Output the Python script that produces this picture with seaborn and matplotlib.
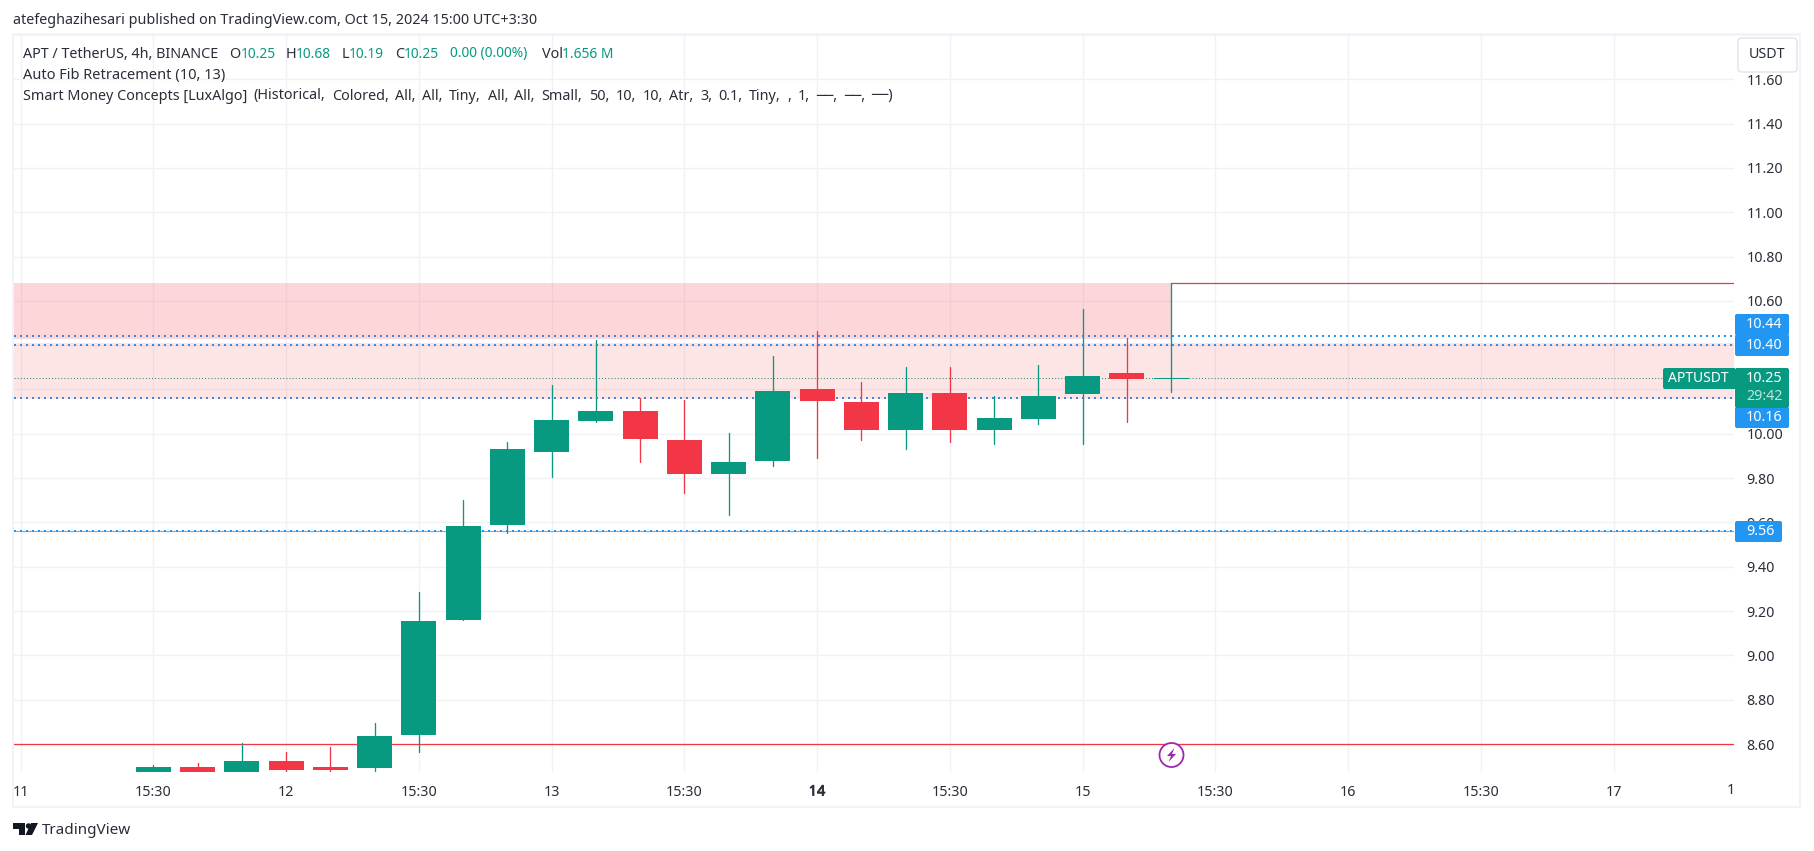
import numpy as np
import pandas as pd
import matplotlib
matplotlib.use("Agg")
import matplotlib.pyplot as plt
import matplotlib.patheffects as pe
from matplotlib.patches import FancyBboxPatch, Rectangle, Polygon, Circle
import seaborn as sns

# ---- data ----
opens  = [8.46, 8.496, 8.46, 8.523, 8.496, 8.492, 8.642, 9.160, 9.588, 9.918, 10.058, 10.103,
          9.972, 9.819, 9.878, 10.202, 10.144, 10.017, 10.184, 10.017, 10.067, 10.18, 10.275, 10.25]
closes = [8.496, 8.46, 8.523, 8.483, 8.483, 8.636, 9.155, 9.584, 9.931, 10.062, 10.103, 9.977,
          9.819, 9.873, 10.193, 10.148, 10.017, 10.184, 10.017, 10.071, 10.171, 10.261, 10.247, 10.25]
highs  = [8.505, 8.515, 8.605, 8.564, 8.586, 8.695, 9.286, 9.70, 9.963, 10.22, 10.423, 10.162,
          10.153, 10.003, 10.351, 10.464, 10.234, 10.302, 10.302, 10.171, 10.311, 10.563, 10.433, 10.68]
lows   = [8.44, 8.45, 8.45, 8.47, 8.47, 8.47, 8.564, 9.16, 9.552, 9.805, 10.053, 9.873,
          9.733, 9.634, 9.855, 9.891, 9.972, 9.931, 9.963, 9.954, 10.044, 9.954, 10.053, 10.19]
ups    = [1, 0, 1, 0, 0, 1, 1, 1, 1, 1, 1, 0, 0, 1, 1, 0, 0, 1, 0, 1, 1, 1, 0, 1]

y_ticks = [8.6, 8.8, 9.0, 9.2, 9.4, 9.6, 9.8, 10.0, 10.2, 10.4, 10.6, 10.8, 11.0, 11.2, 11.4, 11.6]
x_tick_pos = [-3, 0, 3, 6, 9, 12, 15, 18, 21, 24, 27, 30, 33]
x_tick_lab = ["11", "15:30", "12", "15:30", "13", "15:30", "14", "15:30", "15", "15:30", "16", "15:30", "17"]
fib_levels = [10.44, 10.40, 10.16, 9.56]
support = 8.60
resistance = 10.68
last_price = 10.25
zone_upper = (10.43, 10.68)
zone_lower = (10.155, 10.41)

GREEN, RED, BLUE = "#089981", "#f23645", "#2196f3"
GRID, FRAME, INK = "#f1f2f5", "#f0f3fa", "#2a2e39"

sns.set_theme(style="white")
plt.rcParams["font.family"] = ["Noto Sans", "DejaVu Sans"]
FS = 10.35
TICK = 10.3

W, H = 1814, 851
fig = plt.figure(figsize=(W / 100, H / 100), dpi=100, facecolor="white")
L, R, T, B = 14, 1734, 36, 772
ax = fig.add_axes([L / W, 1 - B / H, (R - L) / W, (B - T) / H])
x0, step = 153.3, 44.25
xlim = ((L - x0) / step, (R - x0) / step)
ylim = (11.6 - (B - 79.3) / 221.57, 11.6 + (79.3 - T) / 221.57)

df = pd.DataFrame({"i": np.arange(len(opens)), "o": opens, "c": closes, "h": highs, "l": lows, "up": ups})
wicks = pd.concat([df.assign(v=df.h), df.assign(v=df.l)])
wicks["dir"] = np.where(wicks.up == 1, "up", "down")

# grid
ax.set_xticks(x_tick_pos, x_tick_lab)
ax.set_yticks(y_ticks, [f"{v:.2f}" for v in y_ticks])
ax.yaxis.tick_right()
ax.grid(True, color=GRID, lw=1.0, zorder=0.5)
ax.set_axisbelow(True)
ax.tick_params(length=0, labelsize=TICK, labelcolor=INK, pad=0)
ax.tick_params(axis="x", pad=9)
ax.tick_params(axis="y", pad=9)
for s in ax.spines.values():
    s.set_visible(False)
for t in ax.get_xticklabels():
    if t.get_text() == "14":
        t.set_path_effects([pe.withStroke(linewidth=0.6, foreground=INK)])

# levels
for lv in fib_levels:
    ax.plot(xlim, [lv, lv], color=BLUE, lw=1.44, ls=(0, (1, 2)), zorder=1)
ax.plot(xlim, [fib_levels[-1]] * 2, color="#8fa6c4", lw=0.8, zorder=0.9)
ax.plot(xlim, [last_price] * 2, color=GREEN, lw=0.75, ls=(0, (1, 2)), zorder=1)

# zones
ax.fill_between([xlim[0], len(opens) - 1], *zone_upper, color=RED, alpha=0.2, lw=0, zorder=1.5)
ax.fill_between(list(xlim), *zone_lower, color=RED, alpha=0.13, lw=0, zorder=1.5)

# support/resistance
ax.plot(xlim, [support, support], color=RED, lw=0.9, zorder=2)
ax.plot([len(opens) - 1, xlim[1]], [resistance, resistance], color="#d9404c", lw=0.9, zorder=2)

# wicks through seaborn
sns.lineplot(data=wicks, x="i", y="v", hue="dir", units="i", estimator=None, sort=False,
             palette={"up": GREEN, "down": RED}, lw=0.95, legend=False, ax=ax, zorder=3)
ax.set_xlabel("")
ax.set_ylabel("")

# bodies
body_w = 35 / step
for _, r in df.iterrows():
    col = GREEN if r.up else RED
    lo, hi = min(r.o, r.c), max(r.o, r.c)
    ax.bar(r.i, max(hi - lo, 0.005), bottom=lo if hi > lo else lo - 0.0025, width=body_w,
           color=col, lw=0, zorder=3.2)

ax.set_xlim(xlim)
ax.set_ylim(ylim)


# ---- chrome, in pixel coordinates ----
def px(x, y):
    return x, H - y


def txt(x, y, s, color=INK, ha="left", size=FS, **kw):
    return fig.text(x / W, 1 - y / H, s, color=color, ha=ha, va="center", fontsize=size, zorder=20, **kw)


def rect(x0_, y0_, x1_, y1_, color, z=10, **kw):
    fig.add_artist(Rectangle(px(x0_, y1_), x1_ - x0_, y1_ - y0_, transform=None, facecolor=color,
                             edgecolor="none", zorder=z, **kw))


# frame
for a in [(12, 33, 1801, 36), (12, 806, 1801, 808), (12, 33, 14, 808), (1799, 33, 1801, 808)]:
    rect(*a, FRAME, z=4)

# "1" clipped time label
txt(1731, 790, "1", ha="center", size=TICK)

# header
txt(13, 20, "atefeghazihesari published on TradingView.com, Oct 15, 2024 15:00 UTC+3:30")
line1 = [(23, "APT / TetherUS, 4h, BINANCE", INK), (229, "O", INK), (240.5, "10.25", GREEN), (285.5, "H", INK),
         (296, "10.68", GREEN), (341.5, "L", INK), (349, "10.19", GREEN), (395, "C", INK), (404, "10.25", GREEN),
         (450, "0.00 (0.00%)", GREEN), (541.5, "Vol", INK), (561.5, "1.656 M", GREEN)]
for x, s, c in line1:
    txt(x, 54, s, color=c, size=FS if c == INK else 9.9)
txt(23, 75, "Auto Fib Retracement (10, 13)", size=10.5)

# third legend line: tokens spaced so that the line spans the same width as the reference
tokens = ["Smart Money Concepts [LuxAlgo]", "(Historical,", "Colored,", "All,", "All,", "Tiny,", "All,", "All,",
          "Small,", "50,", "10,", "10,", "Atr,", "3,", "0.1,", "Tiny,", ",", "1,", "──,", "──,", "──)"]
rend = fig.canvas.get_renderer()
items = [txt(0, 96, s) for s in tokens]
widths = [t.get_window_extent(rend).width for t in items]
line_x0, line_x1 = 23, 893
gap = (line_x1 - line_x0 - sum(widths)) / (len(tokens) - 1)
xpos = line_x0
for t, w in zip(items, widths):
    t.set_x(xpos / W)
    xpos += w + gap


# tags
def tag(x0_, y0_, x1_, y1_, color):
    fig.add_artist(FancyBboxPatch(px(x0_ + 2, y1_ - 2), x1_ - x0_ - 4, y1_ - y0_ - 4, boxstyle="round,pad=2",
                                  transform=None, facecolor=color, edgecolor="none", zorder=12))


tag(1735, 314, 1789, 335.5, BLUE)
tag(1735, 334.5, 1789, 356, BLUE)
tag(1735, 407, 1789, 428, BLUE)
tag(1735, 521, 1782, 542, BLUE)
tag(1735, 368, 1789, 408, GREEN)
tag(1663, 368, 1735, 389, GREEN)
rect(1730, 368, 1735, 389, GREEN, z=12)
for y, s in [(325, "10.44"), (346, "10.40"), (418, "10.16"), (531.5, "9.56")]:
    txt(1746, y, s, color="white", size=TICK)
txt(1746, 378.5, "10.25", color="white", size=TICK)
txt(1746, 397, "29:42", color="#c0e6dc", size=TICK)
txt(1668, 378.5, "APTUSDT", color="white", size=10)

# USDT button
fig.add_artist(FancyBboxPatch(px(1742, 68), 51, 26, boxstyle="round,pad=4", transform=None,
                              facecolor="white", edgecolor="#e0e3eb", lw=1, zorder=12))
txt(1767.5, 55, "USDT", ha="center", size=TICK)

# lightning marker
cx, cy = 1171.5, 755
fig.add_artist(Circle(px(cx, cy), 12, transform=None, facecolor="white", edgecolor="#9c27b0", lw=1.3, zorder=12))
bolt = [(3, -7), (-4.5, 1), (-0.5, 1), (-3, 7), (4.5, -1), (0.5, -1)]
fig.add_artist(Polygon([px(cx + a, cy + b) for a, b in bolt], transform=None, facecolor="#9c27b0",
                       edgecolor="none", zorder=13))

# TradingView logo
DARK = "#131722"
rect(13, 823, 25, 829, DARK)
rect(19, 829, 25, 835, DARK)
fig.add_artist(Circle(px(28.5, 826), 2.7, transform=None, facecolor=DARK, edgecolor="none", zorder=10))
fig.add_artist(Polygon([px(*p) for p in [(31, 823), (38, 823), (32, 835), (25.5, 835)]], transform=None,
                       facecolor=DARK, edgecolor="none", zorder=10))
txt(42, 830, "TradingView", color="#2a2e39", size=11)

fig.savefig("out.png", dpi=100, facecolor="white")
